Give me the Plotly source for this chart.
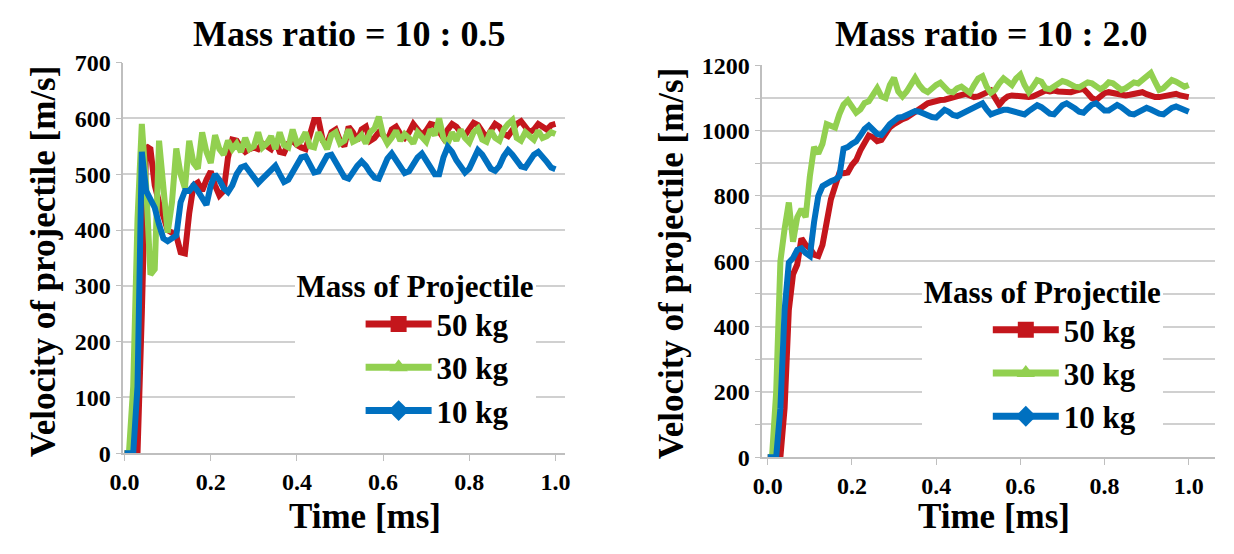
import plotly.graph_objects as go

# ---------------- data ----------------
time_ms = [round(i * 0.01, 2) for i in range(101)]

left_50kg = [0, 0, 0, 0, 250, 550, 545, 480, 450, 420,
             400, 395, 390, 360, 358, 430, 480, 485, 470, 490,
             505, 480, 462, 470, 530, 562, 560, 548, 540, 545,
             548, 545, 555, 550, 545, 560, 540, 538, 555, 560,
             552, 548, 545, 570, 597, 597, 560, 555, 575, 580,
             560, 550, 585, 575, 560, 580, 585, 560, 565, 575,
             570, 560, 580, 585, 572, 565, 575, 590, 580, 570,
             578, 590, 588, 575, 565, 580, 590, 585, 575, 570,
             582, 592, 588, 575, 565, 578, 590, 585, 572, 568,
             580, 590, 595, 585, 575, 580, 590, 585, 580, 588,
             590]
left_30kg = [0, 0, 120, 420, 590, 480, 320, 330, 560, 470,
             395, 450, 546, 500, 475, 560, 520, 510, 575, 540,
             520, 570, 545, 535, 560, 545, 555, 540, 565, 545,
             550, 575, 548, 555, 568, 545, 575, 552, 548, 580,
             555, 560, 575, 550, 548, 575, 560, 545, 570, 575,
             555, 560, 580, 558, 562, 570, 555, 575, 582, 603,
             570, 555, 565, 578, 560, 572, 565, 555, 575, 568,
             558, 580, 570, 600, 565, 555, 575, 560, 580, 565,
             557, 575, 582, 562, 558, 578, 565, 560, 580, 590,
             597, 565, 560, 575, 568, 562, 578, 565, 568, 575,
             572]
left_10kg = [0, 0, 0, 120, 540, 470, 455, 440, 410, 385,
             380, 385, 390, 450, 470, 470, 480, 470, 455, 445,
             480, 500, 490, 475, 468, 480, 500, 512, 515, 505,
             492, 484, 492, 500, 510, 515, 500, 486, 490, 505,
             520, 530, 532, 518, 503, 505, 520, 533, 535, 520,
             505, 495, 492, 505, 515, 523, 515, 503, 494, 492,
             510, 528, 537, 525, 512, 502, 505, 518, 530, 537,
             525, 512, 500, 500, 530, 549, 540, 525, 512, 503,
             510, 530, 543, 535, 520, 510, 506, 515, 532, 543,
             535, 522, 514, 512, 525, 535, 540, 532, 522, 512,
             509]

right_50kg = [0, 0, 0, 0, 150, 450, 560, 590, 670, 650,
              640, 620, 616, 650, 720, 790, 830, 870, 870, 872,
              895, 910, 940, 960, 985, 980, 968, 972, 995, 1010,
              1020, 1030, 1035, 1040, 1048, 1055, 1062, 1075, 1084, 1088,
              1090, 1094, 1095, 1098, 1100, 1105, 1110, 1113, 1108, 1103,
              1105, 1112, 1120, 1123, 1100, 1079, 1095, 1105, 1108, 1106,
              1104, 1103, 1103, 1105, 1112, 1118, 1123, 1120, 1123, 1120,
              1118, 1118, 1118, 1122, 1126, 1128, 1115, 1100, 1094, 1105,
              1115, 1118, 1115, 1110, 1108, 1108, 1110, 1114, 1118, 1118,
              1112, 1106, 1103, 1103, 1106, 1110, 1113, 1113, 1108, 1104,
              1103]
right_30kg = [0, 0, 200, 600, 700, 780, 660, 735, 760, 735,
              860, 950, 930, 960, 1020, 1015, 1010, 1050, 1080, 1093,
              1070, 1055, 1065, 1085, 1090, 1110, 1130, 1105, 1100, 1140,
              1162, 1120, 1105, 1120, 1145, 1162, 1140, 1125, 1118, 1130,
              1140, 1147, 1135, 1120, 1118, 1130, 1135, 1125, 1116, 1140,
              1160, 1167, 1135, 1116, 1125, 1145, 1160, 1150, 1140, 1160,
              1172, 1140, 1118, 1135, 1155, 1150, 1130, 1127, 1135, 1145,
              1152, 1148, 1140, 1135, 1133, 1140, 1148, 1145, 1135, 1127,
              1135, 1148, 1145, 1135, 1125, 1130, 1140, 1148, 1145, 1155,
              1168, 1177, 1150, 1125, 1130, 1145, 1155, 1150, 1140, 1135,
              1140]
right_10kg = [0, 0, 0, 150, 450, 596, 610, 635, 640, 625,
              616, 720, 800, 830, 840, 845, 850, 860, 945, 950,
              960, 967, 985, 1005, 1016, 1000, 990, 987, 1005, 1020,
              1030, 1040, 1042, 1048, 1055, 1060, 1058, 1052, 1048, 1042,
              1040, 1052, 1064, 1058, 1048, 1045, 1052, 1060, 1064, 1072,
              1080, 1084, 1065, 1050, 1055, 1060, 1064, 1064, 1060, 1055,
              1050, 1050, 1060, 1070, 1078, 1072, 1060, 1052, 1050, 1065,
              1078, 1084, 1078, 1068, 1058, 1055, 1068, 1080, 1084, 1072,
              1062, 1062, 1072, 1079, 1072, 1060, 1052, 1050, 1058, 1066,
              1070, 1065, 1058, 1052, 1050, 1060, 1070, 1074, 1070, 1065,
              1058]

series_names = ["50 kg", "30 kg", "10 kg"]
series_colors = ["#C4161C", "#92D050", "#0070C0"]
series_symbols = ["square", "triangle-up", "diamond"]
left_series = [left_50kg, left_30kg, left_10kg]
right_series = [right_50kg, right_30kg, right_10kg]

titles = ["Mass ratio = 10 : 0.5", "Mass ratio = 10 : 2.0"]
x_title = "Time [ms]"
y_title = "Velocity of projectile [m/s]"
legend_title = "Mass of Projectile"

# ---------------- figure ----------------
W, H = 1234, 554
FONT = "Liberation Serif"
GRID = "#D0D0D0"

fig = go.Figure()

for vals, name, col in zip(left_series, series_names, series_colors):
    fig.add_trace(go.Scatter(x=time_ms, y=vals, mode="lines", name=name,
                             line=dict(color=col, width=6), showlegend=False,
                             xaxis="x", yaxis="y"))
for vals, name, col in zip(right_series, series_names, series_colors):
    fig.add_trace(go.Scatter(x=time_ms, y=vals, mode="lines", name=name,
                             line=dict(color=col, width=6), showlegend=False,
                             xaxis="x2", yaxis="y2"))

# legend entries (one legend per panel)
for lg, xa, ya in [("legend", "x", "y"), ("legend2", "x2", "y2")]:
    for name, col, sym in zip(series_names, series_colors, series_symbols):
        fig.add_trace(go.Scatter(x=[None], y=[None], mode="lines+markers", name=name,
                                 line=dict(color=col, width=7),
                                 marker=dict(color=col, symbol=sym, size=18),
                                 legend=lg, legendgroup=lg + name,
                                 xaxis=xa, yaxis=ya))

tickfont = dict(family=FONT, size=24, color="black", weight="bold")

def xaxis(domain, rng, anchor):
    return dict(domain=domain, range=rng, dtick=0.2, tick0=0, tickformat=".1f",
                anchor=anchor,
                showgrid=False, zeroline=False, showline=True, linecolor="#BFBFBF",
                linewidth=1.5, ticks="outside", ticklen=6, tickcolor="#BFBFBF",
                tickfont=tickfont, fixedrange=True)

def yaxis(domain, rng, dtick, anchor, minor=None):
    d = dict(domain=domain, range=rng, dtick=dtick, tick0=0, anchor=anchor,
             showgrid=True, gridcolor=GRID, gridwidth=1.5, zeroline=False,
             showline=True, linecolor="#BFBFBF", linewidth=1.5,
             ticks="outside", ticklen=6, tickcolor="#BFBFBF",
             tickfont=tickfont, fixedrange=True)
    if minor:
        d["minor"] = minor
    return d

fig.update_layout(
    width=W, height=H,
    margin=dict(l=0, r=0, t=0, b=0),
    paper_bgcolor="white", plot_bgcolor="white",
    font=dict(family=FONT, color="black"),
    xaxis=xaxis([111 / W, 560 / W], [-0.003, 1.023], "y"),
    yaxis=yaxis([1 - 462 / H, 1 - 52 / H], [0, 700], 100, "x"),
    xaxis2=xaxis([760 / W, 1220 / W], [-0.013, 1.063], "y2"),
    yaxis2=yaxis([1 - 466 / H, 1 - 55 / H], [0, 1200], 200, "x2",
                 minor=dict(dtick=100, showgrid=True, gridcolor=GRID, gridwidth=1.5,
                            ticks="outside", ticklen=6, tickcolor="#BFBFBF")),
)

legend_common = dict(
    xanchor="left", yanchor="top", bgcolor="white", borderwidth=0,
    font=dict(family=FONT, size=31, color="black", weight="bold"),
    title=dict(text=legend_title, side="top",
               font=dict(family=FONT, size=31, color="black", weight="bold")),
    indentation=66, itemwidth=66, tracegroupgap=0, itemsizing="trace",
)
fig.update_layout(
    legend=dict(x=285 / W, y=1 - 256 / H, **legend_common),
    legend2=dict(x=922 / W, y=1 - 262 / H, **legend_common),
)

ann = []
title_font = dict(family=FONT, size=36, color="black", weight="bold")
axis_font = dict(family=FONT, size=35, color="black", weight="bold")
for cx, t in zip([340, 992], titles):
    ann.append(dict(text=t, x=cx / W, y=1 - 22 / H, xref="paper", yref="paper",
                    showarrow=False, xanchor="center", yanchor="middle", font=title_font))
for cx in [356, 995]:
    ann.append(dict(text=x_title, x=cx / W, y=1 - 528 / H, xref="paper", yref="paper",
                    showarrow=False, xanchor="center", yanchor="middle", font=axis_font))
for cx, cy in [(30, 261), (668, 263)]:
    ann.append(dict(text=y_title, x=cx / W, y=1 - cy / H, xref="paper", yref="paper",
                    showarrow=False, xanchor="center", yanchor="middle", textangle=-90,
                    font=axis_font))
fig.update_layout(annotations=ann)

fig.write_html("out.html", post_script="document.body.style.margin='0px';",
               config={"displayModeBar": False})
